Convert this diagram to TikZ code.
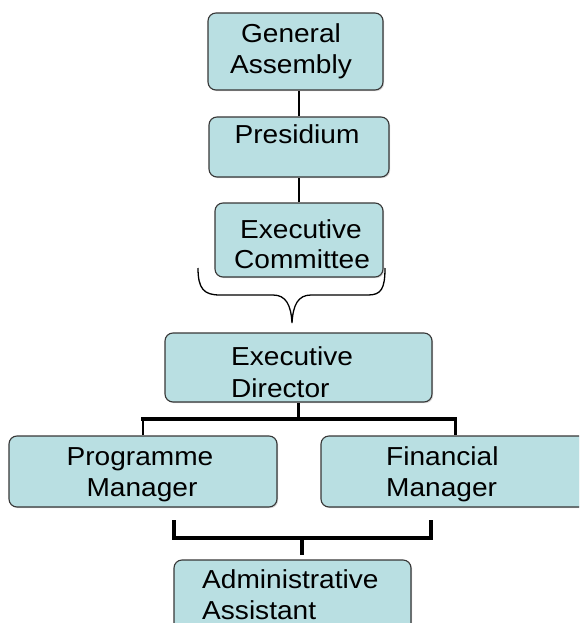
\documentclass[tikz,border=0pt]{standalone}
\usepackage{fontspec}
\setmainfont{Liberation Sans}[FakeStretch=1.08]
\usetikzlibrary{shadows}
\definecolor{boxfill}{RGB}{185,223,226}
\definecolor{boxline}{RGB}{55,55,55}
\begin{document}
\begin{tikzpicture}[x=1pt,y=-1pt,
  orgbox/.style={draw=boxline, line width=1.1pt, fill=boxfill, rounded corners=8pt, inner sep=0pt,
    drop shadow={shadow xshift=1.2pt, shadow yshift=-1.2pt, opacity=0.3}},
  lbl/.style={inner sep=0pt, font=\fontsize{26}{31}\selectfont, text=black},
  conn/.style={line width=1.8pt, draw=black},
  barline/.style={line width=3.8pt, draw=black},
  bracel/.style={line width=1.3pt, draw=black}
]
\useasboundingbox (0,0) rectangle (579,623);
\clip (0,0) rectangle (579,623);
% boxes
\node[orgbox, minimum width=175pt, minimum height=77pt] (ga) at (295.5,51.5) {};
\node[orgbox, minimum width=180pt, minimum height=60pt] (pr) at (299,147) {};
\node[orgbox, minimum width=168pt, minimum height=74pt] (ec) at (299,240) {};
\node[orgbox, minimum width=267pt, minimum height=69pt] (ed) at (298.5,367.5) {};
\node[orgbox, minimum width=268pt, minimum height=71pt] (pm) at (143,471.5) {};
\node[orgbox, minimum width=289pt, minimum height=71pt] (fm) at (465.5,471.5) {};
\node[orgbox, minimum width=237pt, minimum height=90pt] (aa) at (292.5,605) {};
% texts
\node[lbl, anchor=base] (ga1) at (291,43) {General};
\node[lbl, anchor=base] (ga2) at (291,74) {Assembly};
\node[lbl, anchor=base] (pr1) at (297,143) {Presidium};
\node[lbl, anchor=base] (ec1) at (301,238) {Executive};
\node[lbl, anchor=base] (ec2) at (302,268) {Committee};
\node[lbl, anchor=base west] (ed1) at (231,365) {Executive};
\node[lbl, anchor=base west] (ed2) at (231,397) {Director};
\node[lbl, anchor=base] (pm1) at (140,465) {Programme};
\node[lbl, anchor=base] (pm2) at (142,496) {Manager};
\node[lbl, anchor=base west] (fm1) at (386,465) {Financial};
\node[lbl, anchor=base west] (fm2) at (386,496) {Manager};
\node[lbl, anchor=base west] (aa1) at (202,588) {Administrative};
\node[lbl, anchor=base west] (aa2) at (202,619) {Assistant};
% upper connectors
\draw[conn] (pr.north) -- (pr.north |- ga.south);
\draw[conn] (ec.north) -- (ec.north |- pr.south);
% brace
\coordinate (bl) at (198,268);
\coordinate (br) at (385,268);
\coordinate (bt) at (292,323);
\draw[bracel] (bl) .. controls (198,289) and (204,295) .. (220,295) -- (273,295)
  .. controls (286,295) and (291,305) .. (bt)
  .. controls (293,305) and (298,295) .. (311,295) -- (368,295)
  .. controls (381,295) and (385,289) .. (br);
% director to managers
\coordinate (barL) at (143,419);
\coordinate (barR) at (455,419);
\draw[barline, line cap=rect] (barL) -- (barR);
\draw[line width=2.6pt] (ed.south) -- (ed.south |- barL);
\draw[conn] (barL) -- (barL |- pm.north);
\draw[line width=3pt] (barR) -- (barR |- fm.north);
% managers to assistant
\coordinate (kL) at (174,520);
\coordinate (kR) at (431,520);
\coordinate (kM) at (302,538);
\coordinate (kB) at (302,555);
\draw[barline, line join=miter] (kL) -- (kL |- kM) -- (kR |- kM) -- (kR);
\draw[line width=3.4pt] (kM) -- (kB);
\end{tikzpicture}
\end{document}
